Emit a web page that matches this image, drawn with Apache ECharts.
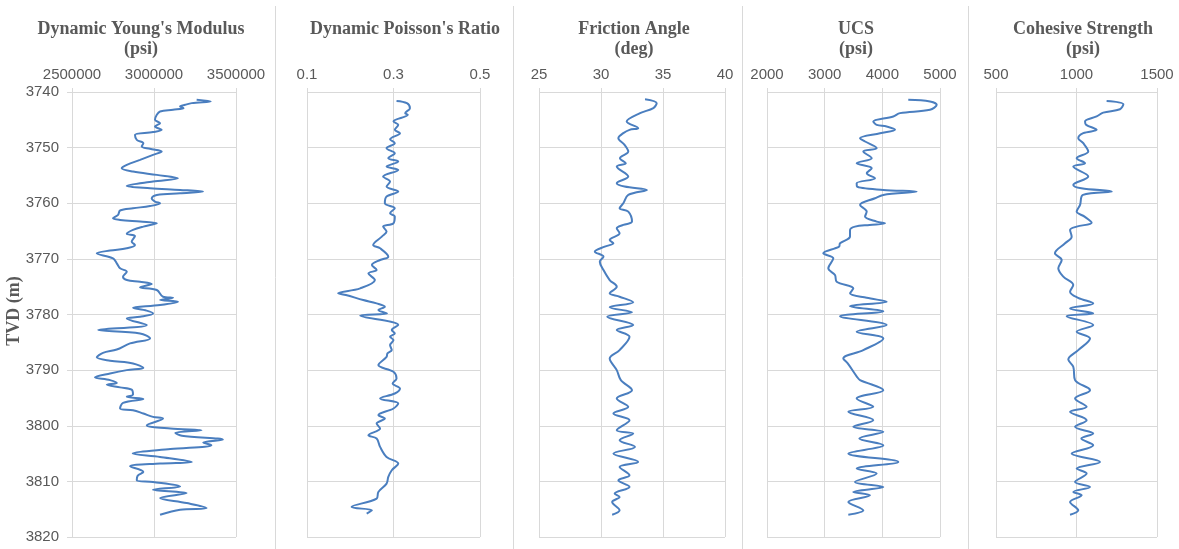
<!DOCTYPE html>
<html>
<head>
<meta charset="utf-8">
<script src="https://cdn.jsdelivr.net/npm/echarts@6/dist/echarts.min.js"></script>
<style>
html,body{margin:0;padding:0;background:#fff;}
#chart{width:1179px;height:549px;}
</style>
</head>
<body>
<div id="chart"></div>
<script>
// ---------- DATA ----------
const depthTicks = [3740, 3750, 3760, 3770, 3780, 3790, 3800, 3810, 3820];

const youngDepth = [3741.4,3741.7,3742.0,3742.3,3742.6,3742.9,3743.2,3743.5,3744.1,3745.0,3745.6,3746.2,3746.8,3747.2,3747.7,3748.6,3749.2,3749.8,3750.2,3750.7,3751.3,3752.2,3753.1,3753.7,3754.3,3754.9,3755.5,3756.1,3756.9,3757.3,3757.6,3757.9,3758.2,3758.5,3759.1,3759.7,3760.0,3760.5,3760.9,3761.3,3762.1,3762.7,3763.0,3763.3,3763.6,3764.2,3764.8,3765.5,3765.9,3766.9,3767.5,3768.1,3768.5,3769.0,3769.9,3770.8,3771.7,3772.3,3773.2,3773.8,3774.1,3774.5,3775.1,3775.6,3776.8,3777.0,3777.4,3777.7,3778.3,3778.8,3779.3,3779.8,3780.4,3780.7,3781.9,3782.8,3783.4,3784.3,3785.2,3786.3,3786.9,3787.7,3788.3,3788.8,3789.6,3790.0,3790.6,3791.3,3791.8,3792.3,3792.6,3793.1,3793.5,3794.4,3794.8,3795.2,3795.9,3796.9,3797.2,3797.8,3798.4,3798.7,3799.9,3800.5,3800.8,3801.3,3801.8,3802.5,3803.0,3803.5,3804.2,3805.0,3805.6,3806.5,3806.8,3807.3,3808.3,3809.0,3809.8,3810.1,3810.9,3811.5,3812.1,3813.0,3813.9,3814.8,3815.1,3816.0];
const youngPsi = [3260000,3346000,3230000,3190000,3159000,3180000,3116000,3037000,3017000,3006000,3037000,3006000,3047000,2994000,2884000,2895000,2935000,2925000,2975000,3047000,2994000,2915000,2834000,2803000,2872000,3017000,3146000,2994000,2834000,2976000,3159000,3299000,3159000,3017000,2986000,3006000,3037000,2976000,2872000,2793000,2781000,2750000,2793000,2915000,3017000,2935000,2872000,2834000,2884000,2864000,2884000,2834000,2732000,2651000,2750000,2773000,2793000,2834000,2811000,2834000,2915000,2986000,2915000,3017000,3055000,3116000,3037000,3146000,3037000,2872000,2955000,2994000,2915000,2834000,2956000,2660000,2915000,2976000,2854000,2773000,2689000,2651000,2732000,2872000,2935000,2834000,2732000,2640000,2732000,2773000,2712000,2793000,2864000,2872000,2834000,2935000,2811000,2793000,2872000,2935000,2994000,3055000,2956000,3100000,3290000,3130000,3170000,3420000,3300000,3350000,3100000,2870000,3037000,3230000,3037000,2854000,2935000,2900000,2895000,2994000,3159000,2994000,3199000,3037000,3199000,3321000,3159000,3037000];

const poissonDepth = [3741.6,3742.0,3742.9,3743.8,3744.1,3745.3,3745.9,3746.8,3747.4,3748.5,3749.2,3750.1,3751.0,3751.9,3752.5,3753.4,3754.0,3755.2,3756.1,3757.0,3757.9,3758.8,3760.0,3760.9,3761.8,3762.4,3763.6,3764.2,3765.1,3766.0,3767.5,3768.1,3769.6,3770.2,3771.1,3772.0,3772.6,3773.8,3775.3,3776.2,3776.5,3777.4,3778.0,3778.6,3779.2,3779.8,3780.2,3781.9,3782.8,3783.4,3784.0,3784.6,3785.5,3786.4,3787.0,3787.6,3789.1,3790.3,3791.5,3792.4,3793.3,3794.2,3795.1,3796.0,3796.9,3798.1,3798.7,3799.6,3800.5,3801.7,3802.3,3803.8,3805.6,3806.8,3808.0,3809.2,3810.4,3811.9,3813.1,3814.6,3815.2,3815.8];
const poissonRatio = [0.307,0.331,0.338,0.327,0.333,0.300,0.311,0.303,0.315,0.292,0.303,0.284,0.303,0.288,0.311,0.284,0.311,0.276,0.292,0.284,0.311,0.284,0.280,0.303,0.292,0.303,0.300,0.276,0.284,0.273,0.253,0.269,0.288,0.269,0.250,0.261,0.242,0.257,0.223,0.172,0.190,0.230,0.261,0.280,0.265,0.285,0.223,0.311,0.296,0.303,0.292,0.300,0.292,0.296,0.286,0.284,0.265,0.300,0.307,0.298,0.315,0.303,0.269,0.311,0.300,0.265,0.280,0.261,0.269,0.242,0.261,0.269,0.284,0.311,0.296,0.288,0.284,0.265,0.261,0.203,0.250,0.238];

const frictionDepth = [3741.3,3742.0,3742.9,3743.8,3745.3,3746.5,3746.8,3747.4,3748.3,3749.5,3750.7,3751.9,3752.8,3753.4,3755.2,3756.4,3757.0,3757.6,3758.5,3760.0,3760.9,3761.5,3763.3,3763.9,3764.5,3765.4,3766.6,3767.2,3767.8,3768.7,3769.6,3770.5,3772.0,3773.8,3775.0,3776.2,3776.8,3777.8,3778.7,3779.6,3780.4,3781.9,3782.8,3784.0,3786.4,3787.9,3788.5,3790.0,3791.8,3793.6,3795.1,3796.6,3797.8,3799.0,3800.8,3801.4,3802.6,3803.8,3805.0,3806.5,3807.4,3808.9,3809.8,3811.0,3812.2,3812.8,3813.7,3815.2,3816.0];
const frictionDeg = [33.55,34.49,34.22,33.15,32.07,33.0,32.3,31.8,31.4,31.9,32.2,31.53,32.0,31.27,32.2,31.27,31.9,33.7,32.2,31.8,31.5,32.2,32.5,31.8,31.27,31.5,30.7,31.0,30.3,29.5,30.2,29.9,30.2,30.7,31.27,30.7,31.5,32.6,30.7,32.5,30.5,32.6,31.27,32.3,31.5,30.7,30.8,31.27,31.6,32.5,31.27,32.2,31.0,32.3,31.27,32.6,31.5,32.74,31.0,33.0,31.5,32.3,31.4,32.3,31.1,31.5,30.9,31.5,30.9];

const ucsDepth = [3741.4,3741.7,3742.3,3743.2,3743.8,3744.4,3745.3,3745.9,3746.2,3746.8,3747.4,3748.3,3748.9,3750.1,3750.7,3751.9,3752.8,3753.7,3754.6,3755.5,3756.4,3757.0,3757.6,3757.9,3758.5,3759.1,3760.3,3761.5,3762.4,3763.3,3763.6,3763.9,3764.2,3764.8,3766.0,3767.2,3767.8,3769.0,3769.9,3771.7,3772.9,3774.1,3775.3,3776.2,3777.0,3777.7,3778.5,3779.4,3780.3,3781.9,3783.1,3784.3,3786.4,3787.9,3788.8,3791.2,3791.8,3793.6,3795.1,3796.6,3797.5,3799.0,3800.2,3801.1,3802.3,3803.5,3805.0,3806.5,3807.7,3808.6,3810.1,3811.0,3811.9,3812.5,3813.7,3815.2,3816.0];
const ucsPsi = [4450,4826,4943,4826,4306,4190,3843,3902,4075,4220,3960,3613,3700,3902,3670,3816,3555,3816,3730,3873,3555,3560,4017,4596,4017,3873,3613,3729,3700,3902,4046,3780,3526,3440,3439,3266,3250,2976,3150,3063,3179,3208,3497,3440,3729,4075,3440,4017,3266,4075,3555,4017,3670,3323,3400,3560,3613,4017,3555,3843,3410,3843,3497,4017,3600,4017,3410,4277,3555,3902,3526,4017,3497,3786,3410,3670,3410];

const cohesiveDepth = [3741.6,3742.2,3743.1,3743.7,3744.4,3745.3,3745.9,3746.8,3747.4,3748.3,3749.2,3750.7,3751.9,3752.8,3753.4,3755.2,3756.7,3757.3,3757.9,3758.5,3760.3,3761.5,3762.4,3763.5,3764.2,3764.8,3766.0,3767.2,3769.0,3770.2,3771.7,3773.2,3774.7,3775.9,3777.0,3778.0,3778.9,3779.8,3780.3,3781.9,3783.1,3784.3,3786.4,3788.1,3789.4,3791.8,3793.6,3795.1,3796.6,3797.5,3799.0,3800.2,3801.4,3802.3,3803.5,3805.0,3806.5,3807.7,3808.6,3810.1,3811.0,3811.9,3812.5,3813.7,3815.2,3816.0];
const cohesivePsi = [1187,1291,1270,1166,1125,1053,1060,1125,1042,1011,1042,1073,1001,1053,980,1073,980,1030,1219,1040,1022,1001,1050,1094,1001,960,970,929,866,908,887,918,980,960,1010,1104,960,1104,939,1104,1001,1084,1011,949,980,991,1084,991,1063,960,1063,991,1104,1030,1104,970,1146,1001,1063,991,1084,980,1032,960,1011,960];

const panelTitles = ["Dynamic Young's Modulus\n(psi)", "Dynamic Poisson's Ratio", "Friction Angle\n(deg)", "UCS\n(psi)", "Cohesive Strength\n(psi)"];
const xMins = [2500000, 0.1, 25, 2000, 500];
const xMaxs = [3500000, 0.5, 40, 5000, 1500];
const xSteps = [500000, 0.2, 5, 1000, 500];
const yAxisTitle = "TVD (m)";

// ---------- LAYOUT ----------
const gridBoxes = [
  {left: 72, width: 164},
  {left: 307, width: 173},
  {left: 539, width: 186},
  {left: 767, width: 173},
  {left: 996, width: 161}
];
const titleCenters = [141, 405, 634, 856, 1083];
const separatorsX = [275, 513, 742, 968];

const seriesData = [
  [youngDepth, youngPsi],
  [poissonDepth, poissonRatio],
  [frictionDepth, frictionDeg],
  [ucsDepth, ucsPsi],
  [cohesiveDepth, cohesivePsi]
];

const textColor = '#595959';
const gridColor = '#d9d9d9';
const lineColor = '#4a7ebf';

const grids = [], xAxes = [], yAxes = [], series = [];
gridBoxes.forEach((g, i) => {
  grids.push({left: g.left, width: g.width, top: 92, height: 445, containLabel: false});
  xAxes.push({
    type: 'value', gridIndex: i, position: 'top',
    min: xMins[i], max: xMaxs[i], interval: xSteps[i],
    axisLine: {show: false},
    axisTick: {show: true, length: 4, inside: false, lineStyle: {color: gridColor}},
    axisLabel: {
      show: true, margin: 10, color: textColor, fontSize: 15,
      fontFamily: 'Liberation Sans, Arial, sans-serif',
      formatter: v => String(Math.round(v * 1000) / 1000)
    },
    splitLine: {show: true, lineStyle: {color: gridColor, width: 1}}
  });
  yAxes.push({
    type: 'value', gridIndex: i, inverse: true,
    min: depthTicks[0], max: depthTicks[depthTicks.length - 1], interval: 10,
    axisLine: {show: false},
    axisTick: {show: i === 0, length: 5, lineStyle: {color: gridColor}},
    axisLabel: {show: i === 0, margin: 13, color: textColor, fontSize: 15,
      fontFamily: 'Liberation Sans, Arial, sans-serif',
      formatter: v => String(v)},
    splitLine: {show: true, lineStyle: {color: gridColor, width: 1}}
  });
  const [dep, val] = seriesData[i];
  series.push({
    type: 'line', xAxisIndex: i, yAxisIndex: i,
    data: dep.map((d, k) => [val[k], d]),
    showSymbol: false, smooth: 0.35,
    lineStyle: {color: lineColor, width: 2},
    itemStyle: {color: lineColor},
    silent: true, animation: false
  });
});

const graphics = [];
separatorsX.forEach(x => {
  graphics.push({type: 'line', shape: {x1: x + 0.5, y1: 6, x2: x + 0.5, y2: 549},
    style: {stroke: gridColor, lineWidth: 1}, silent: true});
});
panelTitles.forEach((t, i) => {
  graphics.push({type: 'text', x: titleCenters[i], y: 19,
    style: {text: t, fill: textColor, font: 'bold 18px "Liberation Serif", "Times New Roman", serif',
      textAlign: 'center', align: 'center', textVerticalAlign: 'top', verticalAlign: 'top', lineHeight: 20}});
});
graphics.push({type: 'text', x: 14, y: 311, rotation: Math.PI / 2,
  style: {text: yAxisTitle, fill: textColor, font: 'bold 18px "Liberation Serif", "Times New Roman", serif',
    textAlign: 'center', align: 'center', textVerticalAlign: 'middle', verticalAlign: 'middle'}});

const chart = echarts.init(document.getElementById('chart'), null, {renderer: 'canvas'});
chart.setOption({
  backgroundColor: '#ffffff',
  animation: false,
  grid: grids, xAxis: xAxes, yAxis: yAxes, series: series,
  graphic: graphics
});
</script>
</body>
</html>
